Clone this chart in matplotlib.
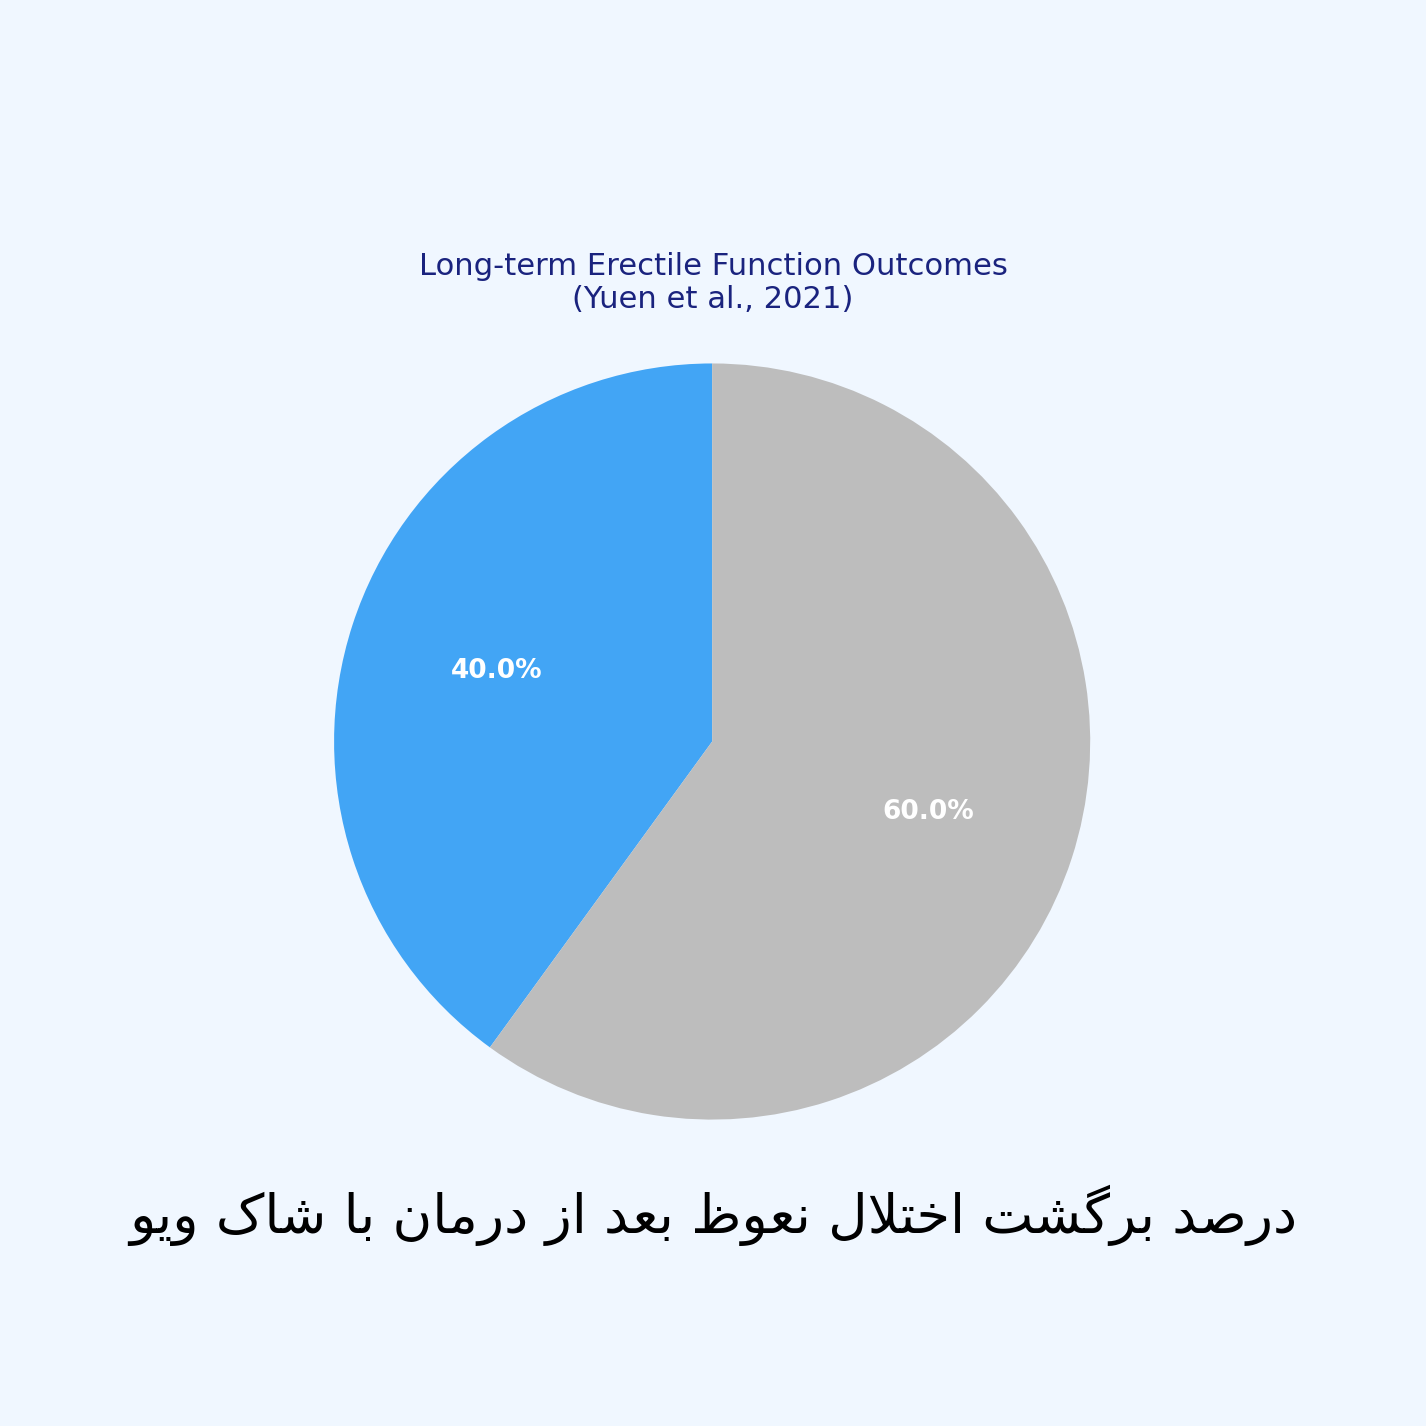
import matplotlib
matplotlib.use('Agg')
import matplotlib.pyplot as plt

labels = ['Recovered', 'Not recovered']
values = [40, 60]
colors = ['#42A5F5', '#BDBDBD']
title = 'Long-term Erectile Function Outcomes\n(Yuen et al., 2021)'
caption = 'درصد برگشت اختلال نعوظ بعد از درمان با شاک ویو'

BG = '#F0F7FF'

# minimal persian shaping, matplotlib has no bidi / joining support
FORMS = {
    'ا': ('\uFE8D', '\uFE8E', None, None),
    'ب': ('\uFE8F', '\uFE90', '\uFE91', '\uFE92'),
    'ت': ('\uFE95', '\uFE96', '\uFE97', '\uFE98'),
    'خ': ('\uFEA5', '\uFEA6', '\uFEA7', '\uFEA8'),
    'د': ('\uFEA9', '\uFEAA', None, None),
    'ر': ('\uFEAD', '\uFEAE', None, None),
    'ز': ('\uFEAF', '\uFEB0', None, None),
    'ش': ('\uFEB5', '\uFEB6', '\uFEB7', '\uFEB8'),
    'ص': ('\uFEB9', '\uFEBA', '\uFEBB', '\uFEBC'),
    'ظ': ('\uFEC5', '\uFEC6', '\uFEC7', '\uFEC8'),
    'ع': ('\uFEC9', '\uFECA', '\uFECB', '\uFECC'),
    'ل': ('\uFEDD', '\uFEDE', '\uFEDF', '\uFEE0'),
    'م': ('\uFEE1', '\uFEE2', '\uFEE3', '\uFEE4'),
    'ن': ('\uFEE5', '\uFEE6', '\uFEE7', '\uFEE8'),
    'و': ('\uFEED', '\uFEEE', None, None),
    'ک': ('\uFB8E', '\uFB8F', '\uFB90', '\uFB91'),
    'گ': ('\uFB92', '\uFB93', '\uFB94', '\uFB95'),
    'ی': ('\uFBFC', '\uFBFD', '\uFBFE', '\uFBFF'),
    'لا': ('\uFEFB', '\uFEFC', None, None),
}


def shape_word(word):
    toks = []
    i = 0
    while i < len(word):
        if word[i] == 'ل' and i + 1 < len(word) and word[i + 1] == 'ا':
            toks.append('لا')
            i += 2
        else:
            toks.append(word[i])
            i += 1
    out = []
    for k, t in enumerate(toks):
        f = FORMS[t]
        prev_joins = k > 0 and FORMS[toks[k - 1]][2] is not None
        next_joins = k < len(toks) - 1 and f[2] is not None
        if prev_joins and next_joins:
            out.append(f[3])
        elif prev_joins:
            out.append(f[1])
        elif next_joins:
            out.append(f[2])
        else:
            out.append(f[0])
    return ''.join(out)


def rtl(text):
    shaped = ' '.join(shape_word(w) for w in text.split(' '))
    return shaped[::-1]


fig = plt.figure(figsize=(10, 10), dpi=142.6, facecolor=BG)
ax = fig.add_axes([0.168, 0.1486, 0.6628, 0.6628])
ax.set_facecolor(BG)

wedges, texts, autotexts = ax.pie(values, colors=colors, autopct='%1.1f%%',
                                  startangle=90, pctdistance=0.6)
for t in autotexts:
    t.set_color('white')
    t.set_fontweight('bold')
    t.set_fontsize(13.3)
ax.set_xlim(-1.25, 1.25)
ax.set_ylim(-1.25, 1.25)
ax.set_aspect('equal')

fig.text(0.5, 1 - 283 / 1426, title, ha='center', va='center',
         fontsize=15.5, color='#1A237E', linespacing=1.15)
fig.text(0.5, 1 - 1215 / 1426, rtl(caption), ha='center', va='center',
         fontsize=27.4, color='black')

fig.savefig('out.png', dpi=142.6, facecolor=BG)
